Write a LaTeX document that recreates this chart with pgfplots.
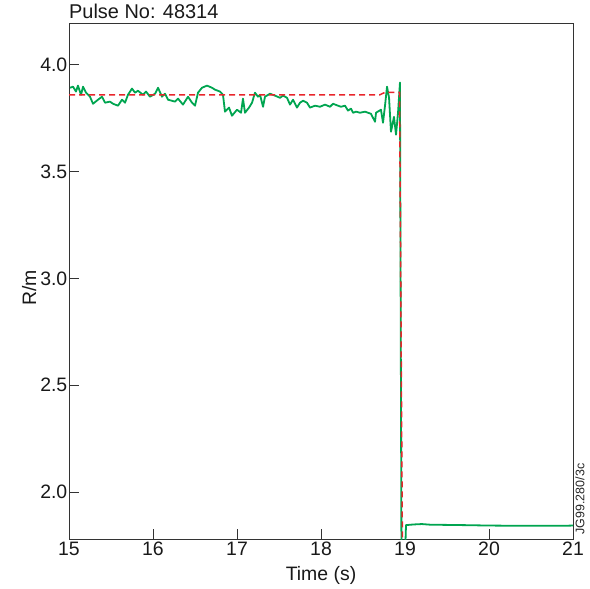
\documentclass[border=0pt]{standalone}
\usepackage{fontspec}
\setmainfont{Liberation Sans}
\usepackage{pgfplots}
\pgfplotsset{compat=1.18}
\definecolor{tracegreen}{HTML}{00A550}
\definecolor{fitred}{HTML}{E8262C}
\definecolor{frame}{HTML}{333333}

\begin{document}
\begin{tikzpicture}
\begin{axis}[
  scale only axis,
  width=504bp, height=516bp,
  xmin=15, xmax=21, ymin=1.78, ymax=4.195,
  xtick={15,16,17,18,19,20,21},
  ytick={2.0,2.5,3.0,3.5,4.0},
  yticklabel style={inner xsep=1.5bp, /pgf/number format/fixed,
    /pgf/number format/fixed zerofill, /pgf/number format/precision=1},
  /pgf/number format/assume math mode=true,
  tick label style={font=\fontsize{19.5}{21}\selectfont, text=black!90},
  xticklabel style={inner ysep=3bp},
  tick align=inside,
  major tick length=10bp,
  xtick pos=bottom, ytick pos=left,
  axis line style={draw=frame, line width=0.9bp},
  tick style={draw=frame, line width=0.9bp},
  clip=true,
]
% measured trace (green)
\addplot[tracegreen, line width=1.8bp, line join=round] coordinates {
  (15.012,3.892) (15.048,3.897) (15.083,3.874) (15.107,3.902) (15.143,3.859)
  (15.167,3.897) (15.202,3.869) (15.250,3.850) (15.286,3.817) (15.345,3.836)
  (15.393,3.850) (15.429,3.822) (15.488,3.827) (15.524,3.817) (15.583,3.808)
  (15.631,3.836) (15.667,3.822) (15.702,3.859) (15.750,3.888) (15.786,3.869)
  (15.821,3.878) (15.881,3.859) (15.917,3.874) (15.964,3.850) (16.024,3.864)
  (16.060,3.892) (16.107,3.850) (16.143,3.864) (16.179,3.836) (16.262,3.827)
  (16.298,3.841) (16.357,3.813) (16.417,3.850) (16.464,3.822) (16.500,3.808)
  (16.536,3.869) (16.583,3.892) (16.643,3.902) (16.702,3.892) (16.738,3.883)
  (16.798,3.874) (16.833,3.859) (16.857,3.780) (16.905,3.799) (16.940,3.761)
  (17.000,3.789) (17.048,3.775) (17.071,3.841) (17.095,3.775) (17.143,3.799)
  (17.179,3.822) (17.214,3.869) (17.250,3.850) (17.274,3.859) (17.310,3.803)
  (17.333,3.850) (17.393,3.864) (17.452,3.855) (17.512,3.845) (17.548,3.855)
  (17.595,3.845) (17.631,3.813) (17.667,3.836) (17.714,3.799) (17.750,3.822)
  (17.786,3.831) (17.833,3.822) (17.869,3.799) (17.929,3.808) (17.988,3.803)
  (18.048,3.813) (18.107,3.803) (18.143,3.817) (18.202,3.808) (18.238,3.803)
  (18.286,3.808) (18.321,3.785) (18.357,3.794) (18.381,3.775) (18.417,3.780)
  (18.464,3.775) (18.524,3.780) (18.595,3.770) (18.643,3.733) (18.655,3.775)
  (18.714,3.789) (18.738,3.728) (18.762,3.808) (18.786,3.897) (18.810,3.845)
  (18.833,3.686) (18.869,3.756) (18.893,3.672) (18.917,3.775) (18.940,3.916)
  (18.958,1.70) (19.000,1.70) (19.012,1.845)
  (19.10,1.848) (19.20,1.850) (19.30,1.847) (19.50,1.846) (19.70,1.845)
  (20.00,1.843) (20.30,1.842) (20.60,1.842) (20.90,1.842) (21.00,1.843)
};
% reconstruction (red dashed)
\addplot[fitred, line width=1.5bp, dash pattern=on 6bp off 4bp] coordinates {
  (15.000,3.859) (18.700,3.859) (18.760,3.870) (18.935,3.870) (18.970,1.70)
};
\end{axis}
\node[anchor=base west, inner sep=0pt, font=\fontsize{20}{22}\selectfont, text=black!90]
  at ([yshift=4bp]current axis.north west) {Pulse No: 48314};
\node[anchor=base, inner sep=0pt, font=\fontsize{19.5}{21}\selectfont, text=black!90]
  at ([yshift=-41bp]current axis.south) {Time (s)};
\node[anchor=base, rotate=90, inner sep=0pt, font=\fontsize{19.5}{21}\selectfont, text=black!90]
  at ([xshift=-33bp,yshift=-7bp]current axis.west) {R/m};
\node[rotate=90, inner sep=0pt, font=\fontsize{12.5}{14}\selectfont, text=black!85]
  at ([xshift=7bp,yshift=40bp]current axis.south east) {JG99.280/3c};
\pgfresetboundingbox
\path ([shift={(-69bp,-49bp)}]current axis.south west) rectangle ([shift={(17bp,23bp)}]current axis.north east);
\end{tikzpicture}
\end{document}
